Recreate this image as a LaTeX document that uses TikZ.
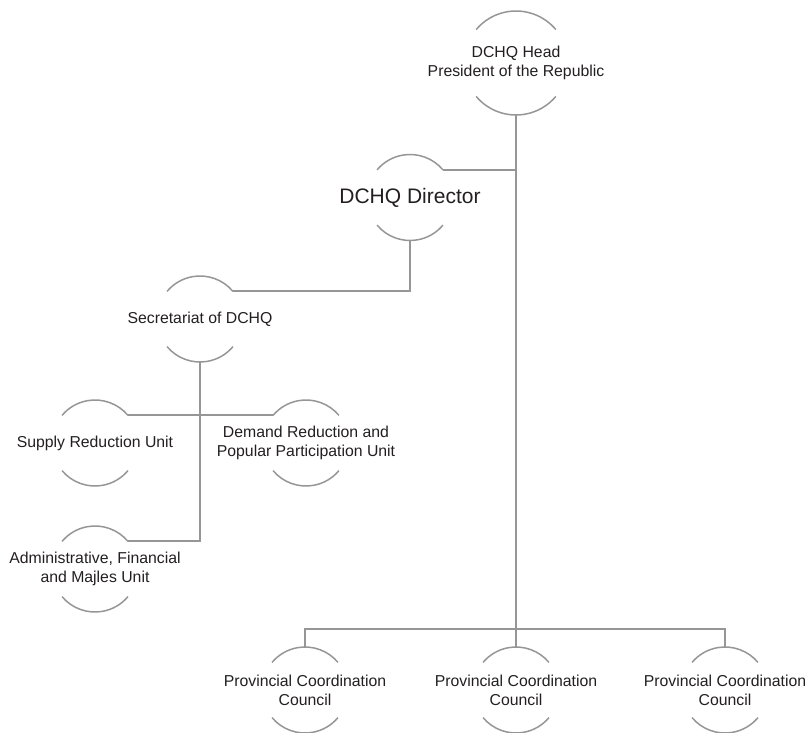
\documentclass[tikz,border=0pt]{standalone}
\usepackage{fontspec}
\setmainfont{Liberation Sans}
\usepackage{xcolor}
\usepackage{tikz}
\usetikzlibrary{positioning}
\definecolor{linegray}{RGB}{150,150,150}
\definecolor{textgray}{RGB}{35,31,32}
\tikzset{unit/.style={align=center,inner sep=0pt,text=textgray,font=\fontsize{15.8}{19}\selectfont},
         bigunit/.style={unit,font=\fontsize{21}{25}\selectfont},
         arcline/.style={draw=linegray,line width=1.5pt},
         conn/.style={draw=linegray,line width=2pt}}
% top and bottom arcs round a unit, with named ends
\newcommand{\unitarcs}[2]{%
  \draw[arcline] (#1.center) ++(40:#2pt) coordinate (#1-ne) arc[start angle=40,end angle=140,radius=#2pt] coordinate (#1-nw);
  \draw[arcline] (#1.center) ++(220:#2pt) arc[start angle=220,end angle=320,radius=#2pt];
  \path (#1.center) ++(90:#2pt) coordinate (#1-n);
  \path (#1.center) ++(-90:#2pt) coordinate (#1-s);}

\begin{document}
\begin{tikzpicture}[x=1pt,y=1pt]
    \useasboundingbox (0,0) rectangle (810,732);
    \node[unit] (head)at (516,669) {DCHQ Head\\President of the Republic};
    \node[bigunit] (dir)at (410,534.5) {DCHQ Director};
    \node[unit] (sec)at (200,413) {Secretariat of DCHQ};
    \node[unit] (sup)at (95,289) {Supply Reduction Unit};
    \node[unit] (dem)at (306,289) {Demand Reduction and\\Popular Participation Unit};
    \node[unit] (adm)at (95,163) {Administrative, Financial\\and Majles Unit};
    \node[unit] (prov1)at (305,42) {Provincial Coordination\\Council};
    \node[unit] (prov2)at (516,42) {Provincial Coordination\\Council};
    \node[unit] (prov3)at (725,42) {Provincial Coordination\\Council};
    \coordinate (bus)at (516,103);

    \unitarcs{head}{52}
    \foreach \n in {dir,sec,sup,dem,adm,prov1,prov2,prov3}
        {\unitarcs{\n}{43}}

    \draw [conn] (head-s) to [] (prov2-n);
    \draw [conn] (dir-ne) to [] (dir-ne -| head-s);
    \draw [conn] (dir-s) |- (sec-ne);
    \draw [conn] (sec-s) |- (adm-ne);
    \draw [conn] (sup-ne) to [] (dem-nw);
    \draw [conn] (prov1-n) |- (bus) -| (prov3-n);
\end{tikzpicture}
\end{document}
